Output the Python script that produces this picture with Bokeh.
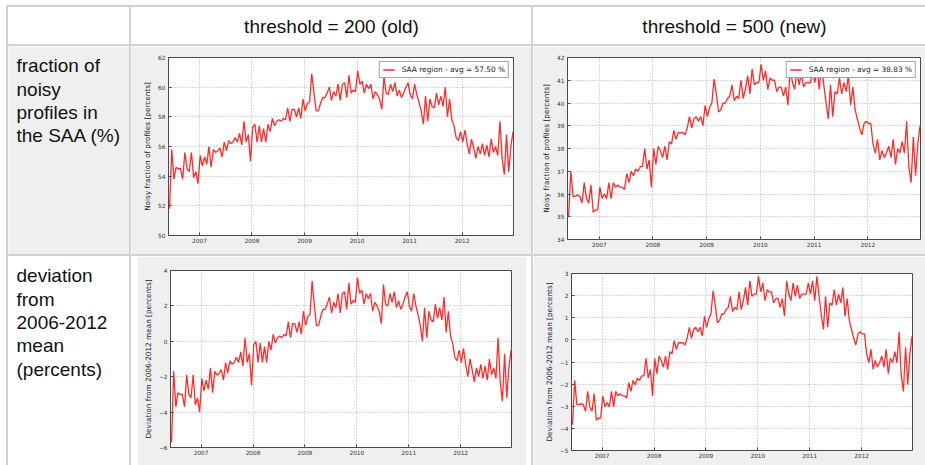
from bokeh.plotting import figure
from bokeh.layouts import row, column
from bokeh.models import Spacer, Range1d, FixedTicker, Legend, LegendItem
from bokeh.core.properties import value
from bokeh.embed import file_html
from bokeh.resources import INLINE

# ---------------- data ----------------
START_YEAR = 2006.43
STEP = 1.0 / 24.0          # semi-monthly samples
X_MIN, X_MAX = 2006.41, 2012.98
YEARS = [2007, 2008, 2009, 2010, 2011, 2012]

old_2006 = [51.8, 55.8, 53.8, 54.6, 54.5, 54.5, 53.8, 55.6, 54.5, 54.3, 55.6, 53.9, 54.3, 53.5]
old_2007 = [55.4, 54.7, 55.3, 54.8, 56.0, 54.6, 55.8, 55.6, 55.7, 55.9, 55.3, 56.3,
            55.7, 56.4, 56.2, 56.3, 56.6, 56.3, 56.9, 56.1, 57.7, 56.3, 56.8, 55.0]
old_2008 = [57.3, 57.5, 56.3, 57.4, 56.3, 57.2, 56.3, 57.5, 57.0, 57.9, 57.4, 57.7,
            57.8, 57.7, 57.9, 57.8, 58.6, 57.7, 58.5, 58.5, 58.0, 58.6, 57.9, 59.2]
old_2009 = [58.4, 58.9, 59.0, 60.9, 59.6, 58.4, 58.4, 58.9, 59.3, 59.3, 59.6, 60.0,
            59.1, 59.7, 59.4, 60.2, 59.1, 60.2, 60.3, 59.3, 60.8, 59.6, 59.8, 59.7]
old_2010 = [61.1, 60.2, 60.4, 59.6, 60.2, 59.9, 60.2, 59.2, 59.7, 59.5, 59.2, 58.5,
            60.7, 59.6, 59.5, 60.2, 59.7, 60.3, 59.4, 59.8, 59.3, 59.6, 60.0, 60.3]
old_2011 = [59.5, 59.2, 60.2, 59.5, 59.0, 58.4, 57.5, 59.4, 57.7, 59.2, 58.7, 58.6,
            59.6, 58.8, 59.4, 58.7, 60.0, 58.0, 59.2, 57.8, 57.4, 56.6, 56.4, 57.0]
old_2012 = [56.3, 57.1, 56.2, 55.5, 56.5, 55.9, 55.2, 56.0, 55.5, 56.2, 55.4, 56.1,
            55.3, 56.5, 55.6, 56.0, 55.4, 57.7, 55.2, 54.1, 56.8, 54.3, 56.0, 57.0]
AVG_OLD = 57.50

new_2006 = [35.0, 37.0, 35.9, 35.9, 35.95, 35.9, 35.6, 36.5, 35.8, 35.6, 36.4, 35.2, 35.3, 35.3]
new_2007 = [36.3, 35.8, 36.0, 35.8, 36.5, 35.8, 36.5, 36.3, 36.4, 36.3, 36.3, 36.2,
            36.9, 36.5, 37.0, 36.8, 37.1, 37.0, 37.2, 37.2, 38.0, 37.1, 37.5, 36.3]
new_2008 = [38.0, 37.3, 38.1, 37.9, 37.6, 38.1, 37.5, 38.3, 38.2, 38.8, 38.4, 38.7,
            38.7, 38.7, 38.6, 38.9, 39.4, 38.9, 39.3, 39.4, 39.2, 39.4, 39.0, 39.9]
new_2009 = [39.4, 39.8, 40.0, 41.05, 40.4, 39.6, 39.7, 40.0, 40.0, 40.2, 40.3, 40.8,
            40.1, 40.3, 40.2, 41.0, 40.2, 40.6, 41.2, 40.4, 41.5, 40.8, 40.9, 40.9]
new_2010 = [41.7, 41.0, 41.4, 40.6, 41.1, 41.0, 41.0, 40.5, 40.7, 40.7, 40.3, 40.7,
            39.9, 41.5, 40.9, 40.6, 41.4, 40.8, 41.3, 40.7, 40.9, 40.9, 40.9, 41.4]
new_2011 = [40.9, 41.5, 40.6, 41.7, 40.8, 40.0, 39.3, 40.8, 39.4, 40.5, 40.4, 41.1,
            40.4, 40.9, 40.5, 41.2, 39.9, 40.7, 39.7, 39.3, 38.9, 38.6, 39.1, 39.2]
new_2012 = [39.1, 39.1, 38.2, 37.8, 38.4, 37.5, 37.9, 37.6, 37.8, 38.1, 37.6, 38.4,
            37.3, 38.0, 37.8, 38.3, 37.8, 39.2, 37.2, 36.5, 38.5, 36.8, 38.2, 39.0]
AVG_NEW = 38.83

col_titles = ["threshold = 200 (old)", "threshold = 500 (new)"]
row1_label = ["fraction of", "noisy", "profiles in", "the SAA (%)"]
row2_label = ["deviation", "from", "2006-2012", "mean", "(percents)"]
ylabel_frac = "Noisy fraction of profiles [percents]"
ylabel_dev = "Deviation from 2006-2012 mean [percents]"

old_vals = old_2006 + old_2007 + old_2008 + old_2009 + old_2010 + old_2011 + old_2012
new_vals = new_2006 + new_2007 + new_2008 + new_2009 + new_2010 + new_2011 + new_2012
times = [START_YEAR + i * STEP for i in range(len(old_vals))]
dev_old = [v - AVG_OLD for v in old_vals]
dev_new = [v - AVG_NEW for v in new_vals]

SEP = "#d2d2d2"
GRAY = "#efefef"
WHITE = "#ffffff"
RED = "#ff2b2b"
FRAME = "#4a4a4a"
TXT_FONT = value("Liberation Sans")
TEXT_SHIFT = 7   # measured offset of the rendered glyph baseline


def hsep(w):
    return Spacer(width=w, height=2, styles={"background-color": SEP})


def vsep(h):
    return Spacer(width=2, height=h, styles={"background-color": SEP})


def pad(w, h, color=WHITE):
    return Spacer(width=w, height=h, styles={"background-color": color})


def boxed(fig):
    # own container, so that frames are not aligned with neighbouring plots
    return column(fig)


def text_cell(w, h, bg, xs, ys, texts, align):
    p = figure(width=w, height=h, output_backend="svg", toolbar_location=None,
               title=None, x_range=Range1d(0, w), y_range=Range1d(0, h),
               min_border=0, min_border_left=0, min_border_right=0,
               min_border_top=0, min_border_bottom=0,
               x_axis_type=None, y_axis_type=None,
               background_fill_color=bg, border_fill_color=bg, outline_line_color=None)
    p.text(x=xs, y=[h - (y - TEXT_SHIFT) for y in ys], text=texts, text_font=TXT_FONT,
           text_font_size="19px", text_align=align, text_baseline="alphabetic",
           text_color="#111111")
    return boxed(p)


def chart(w, h, ys, yr, yticks, ylabel, mb, legend_label=None, bg=GRAY):
    p = figure(width=w, height=h, output_backend="svg", toolbar_location=None, title=None,
               x_range=Range1d(X_MIN, X_MAX), y_range=Range1d(*yr),
               min_border_left=mb[0], min_border_right=mb[1],
               min_border_top=mb[2], min_border_bottom=mb[3],
               background_fill_color="white", border_fill_color=bg,
               outline_line_color=FRAME, outline_line_width=1)
    r = p.line(times, ys, line_color=RED, line_width=1.3)
    p.xaxis.ticker = FixedTicker(ticks=YEARS)
    p.yaxis.ticker = FixedTicker(ticks=yticks)
    for ax in (p.xaxis[0], p.yaxis[0]):
        ax.axis_line_color = FRAME
        ax.major_tick_line_color = FRAME
        ax.major_tick_in = 3
        ax.major_tick_out = 0
        ax.minor_tick_line_color = None
        ax.major_label_text_font = "DejaVu Sans"
        ax.major_label_text_font_size = "5.8px"
        ax.major_label_text_color = "#333333"
        ax.major_label_standoff = 3
    p.yaxis.axis_label = ylabel
    p.yaxis.axis_label_text_font = "DejaVu Sans"
    p.yaxis.axis_label_text_font_size = "7.3px"
    p.yaxis.axis_label_text_font_style = "normal"
    p.yaxis.axis_label_text_color = "#222222"
    p.yaxis.axis_label_standoff = 3
    p.xaxis.major_label_standoff = 2
    p.grid.grid_line_color = "#9a9a9a"
    p.grid.grid_line_dash = "1 2"
    p.grid.grid_line_width = 0.8
    if legend_label:
        lg = Legend(items=[LegendItem(label=legend_label, renderers=[r])],
                    location="top_right", orientation="vertical",
                    label_text_font="DejaVu Sans", label_text_font_size="7.4px",
                    label_text_color="#222222",
                    glyph_width=12, glyph_height=7, label_height=7,
                    label_standoff=7, padding=3, margin=4, spacing=0,
                    border_line_color=FRAME, border_line_width=1,
                    background_fill_color="white", background_fill_alpha=1)
        p.add_layout(lg)
    return boxed(p)


W = 925
top = column(pad(W, 5), row(pad(6, 2), hsep(W - 6)))

header = row(
    pad(6, 37),
    vsep(37),
    pad(121, 37),
    vsep(37),
    text_cell(400, 37, WHITE, [200], [26], [col_titles[0]], "center"),
    vsep(37),
    text_cell(392, 37, WHITE, [201], [26], [col_titles[1]], "center"),
)

tl = chart(400, 208, old_vals, (50, 62), [50, 52, 54, 56, 58, 60, 62], ylabel_frac,
           (37, 18, 11, 19), "SAA region - avg = %.2f %%" % AVG_OLD)
tr = chart(392, 208, new_vals, (34, 42), [34, 35, 36, 37, 38, 39, 40, 41, 42], ylabel_frac,
           (34, 5, 11, 15), "SAA region - avg = %.2f %%" % AVG_NEW)
row2 = row(
    pad(6, 208),
    vsep(208),
    text_cell(121, 208, GRAY, [8] * 4, [26.3, 49.7, 73, 96.3], row1_label, "left"),
    vsep(208),
    tl,
    vsep(208),
    tr,
)

bl = chart(389, 209, dev_old, (-6, 4), [-6, -4, -2, 0, 2, 4], ylabel_dev, (33, 15, 14, 18))
br = chart(392, 209, dev_new, (-5, 3), [-5, -4, -3, -2, -1, 0, 1, 2, 3], ylabel_dev, (38, 13, 17, 15))
row3 = row(
    pad(6, 209),
    vsep(209),
    text_cell(121, 209, WHITE, [8] * 5, [26.3, 49.7, 73, 96.3, 119.7], row2_label, "left"),
    vsep(209),
    pad(6, 209),
    bl,
    pad(5, 209),
    vsep(209),
    br,
)

page = column(top, header, row(pad(6, 2), hsep(W - 6)), row2,
              row(pad(6, 2), hsep(W - 6)), row3)

open("out.html", "w").write(file_html(page, INLINE))
